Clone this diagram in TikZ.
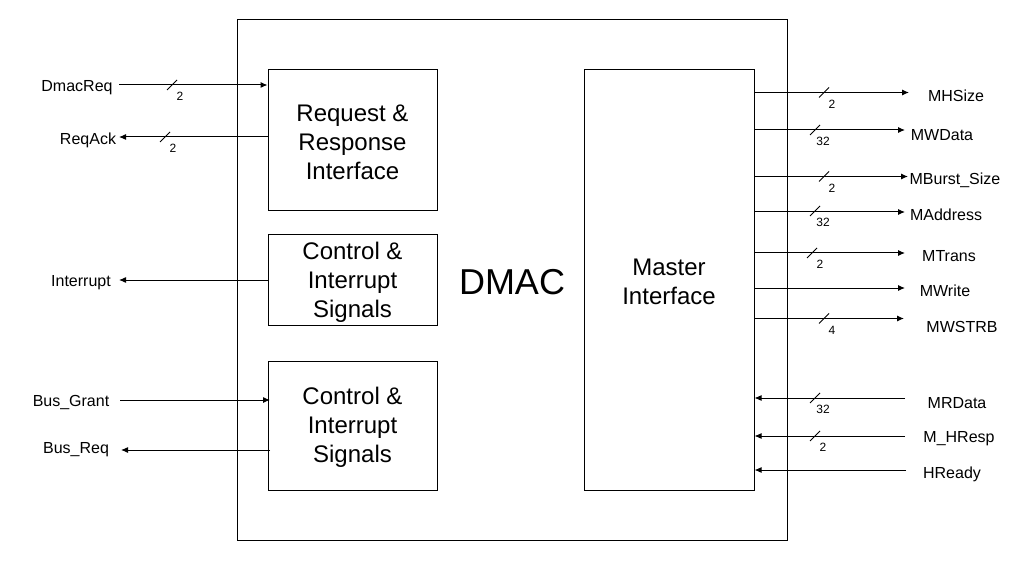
\documentclass[tikz,border=0pt]{standalone}
\usepackage{fontspec}
\setmainfont{Liberation Sans}
\usetikzlibrary{arrows.meta}
\begin{document}
\begin{tikzpicture}[x=1pt,y=-1pt, line width=1pt,
 blk/.style={draw, inner sep=0pt, align=center, font=\fontsize{24}{29}\selectfont},
 txt/.style={inner sep=0pt, align=center, font=\fontsize{24}{29}\selectfont},
 sig/.style={font=\fontsize{16}{19}\selectfont, inner sep=0pt},
 wn/.style={font=\fontsize{12}{14}\selectfont, inner sep=0pt},
 arr/.style={-{Latex[length=7pt,width=6pt]}},
]
\useasboundingbox (0,0) rectangle (1030,561);
% boxes
\node[blk, minimum width=550pt, minimum height=520pt] (outer) at (512,280) {};
\node[blk, minimum width=169pt, minimum height=141pt] (b1) at (352.5,140.5) {};
\node[txt] (t1) at (352.5,142.5) {Request \&\\Response\\Interface};
\node[blk, minimum width=169pt, minimum height=90pt] (b2) at (352.5,280) {};
\node[txt] (t2) at (352.5,282) {Control \&\\Interrupt\\Signals};
\node[blk, minimum width=169pt, minimum height=129pt] (b3) at (352.5,425.5) {};
\node[txt] (t3) at (352.5,427.5) {Control \&\\Interrupt\\Signals};
\node[blk, minimum width=170pt, minimum height=420pt] (m) at (669,280) {};
\node[txt] (tm) at (669,282) {Master\\Interface};
\node[font=\fontsize{36}{43}\selectfont, inner sep=0pt] (dmac) at (512,282) {DMAC};

\newcommand\busmark[4]{% name, x, y, text
  \draw[line width=0.8pt] (#2-5,#3+5) -- (#2+5,#3-5);
  \node[wn] (#1) at (#2+8,#3+11.5) {#4};}

% left signals
\node[sig] (lDmac) at (77,88) {DmacReq};
\coordinate (cDmac) at (119,85);
\draw[arr] (cDmac) -- (cDmac -| b1.west);
\busmark{nDmac}{172}{85}{2}

\node[sig] (lAck) at (88,140) {ReqAck};
\coordinate (cAck) at (119,137);
\draw[arr] (cAck -| b1.west) -- (cAck);
\busmark{nAck}{165}{137}{2}

\node[sig] (lInt) at (81,283) {Interrupt};
\coordinate (cInt) at (119,280);
\draw[arr] (cInt -| b2.west) -- (cInt);

\node[sig] (lBG) at (71,403) {Bus\_Grant};
\coordinate (cBG) at (120,400);
\coordinate (eBG) at (270,400);
\draw[arr] (cBG) -- (eBG);

\node[sig] (lBR) at (76,450) {Bus\_Req};
\coordinate (cBR) at (121,450);
\coordinate (eBR) at (270,450);
\draw[arr] (eBR) -- (cBR);

% right outputs
\node[sig] (lHS) at (956,96) {MHSize};
\coordinate (cHS) at (909,92.5);
\draw[arr] (cHS -| m.east) -- (cHS);
\busmark{nHS}{824}{92.5}{2}

\node[sig] (lWD) at (942,135) {MWData};
\coordinate (cWD) at (905,130);
\draw[arr] (cWD -| m.east) -- (cWD);
\busmark{nWD}{815}{130}{32}

\node[sig] (lBS) at (955,180) {MBurst\_Size};
\coordinate (cBS) at (908,176.5);
\draw[arr] (cBS -| m.east) -- (cBS);
\busmark{nBS}{824}{176.5}{2}

\node[sig] (lAd) at (946,215) {MAddress};
\coordinate (cAd) at (905,212);
\draw[arr] (cAd -| m.east) -- (cAd);
\busmark{nAd}{815}{211}{32}

\node[sig] (lTr) at (949,256) {MTrans};
\coordinate (cTr) at (905,253);
\draw[arr] (cTr -| m.east) -- (cTr);
\busmark{nTr}{812}{253}{2}

\node[sig] (lWr) at (945,291) {MWrite};
\coordinate (cWr) at (905,288);
\draw[arr] (cWr -| m.east) -- (cWr);

\node[sig] (lSt) at (962,327) {MWSTRB};
\coordinate (cSt) at (904,318.5);
\draw[arr] (cSt -| m.east) -- (cSt);
\busmark{nSt}{824}{318.5}{4}

% right inputs
\node[sig] (lRD) at (957,403) {MRData};
\coordinate (cRD) at (905,398);
\draw[arr] (cRD) -- (cRD -| m.east);
\busmark{nRD}{815}{398}{32}

\node[sig] (lHR) at (959,439) {M\_HResp};
\coordinate (cHR) at (905,436);
\draw[arr] (cHR) -- (cHR -| m.east);
\busmark{nHR}{815}{436}{2}

\node[sig] (lRdy) at (952,474) {HReady};
\coordinate (cRdy) at (906,470);
\draw[arr] (cRdy) -- (cRdy -| m.east);
\end{tikzpicture}
\end{document}
